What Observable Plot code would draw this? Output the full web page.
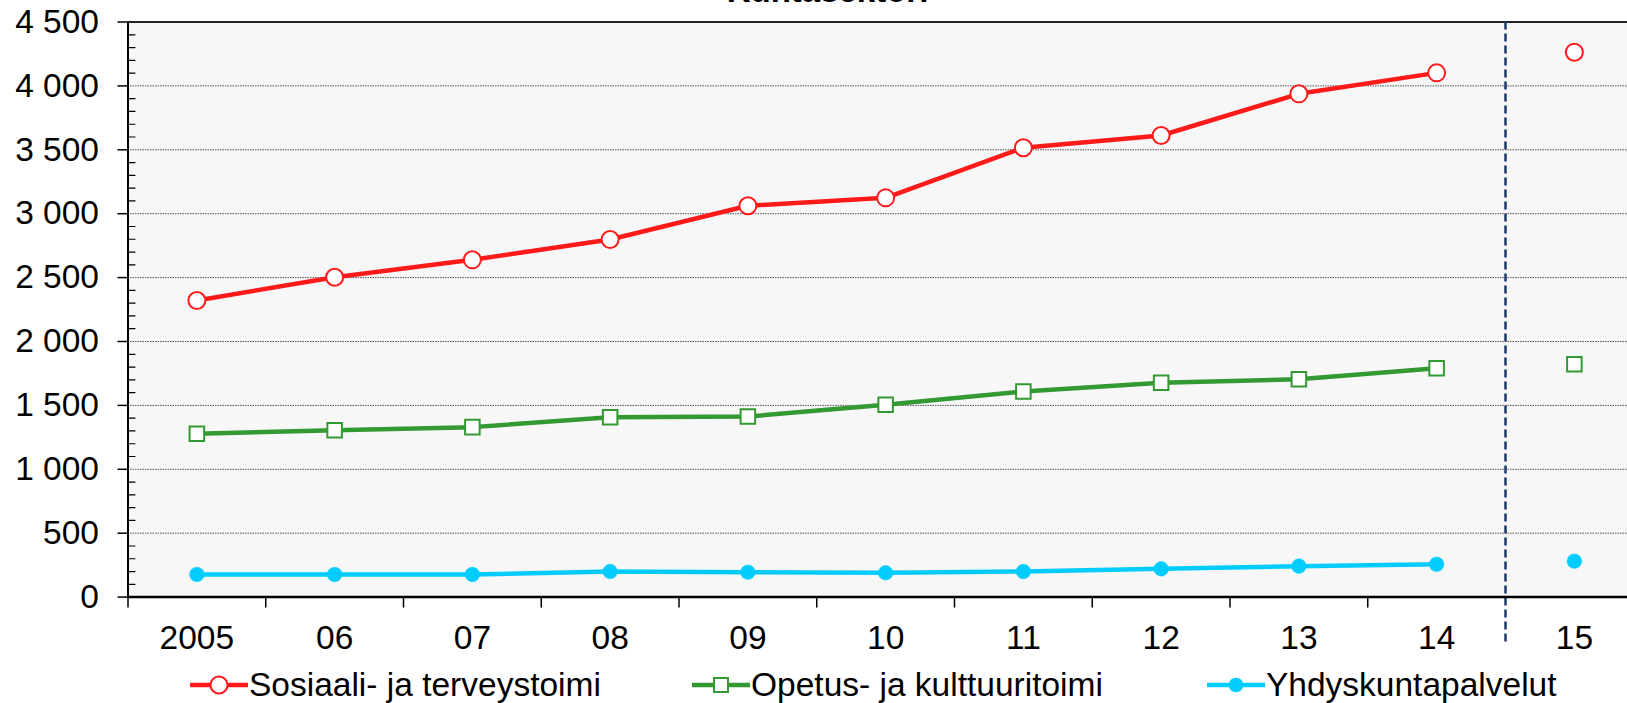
<!DOCTYPE html>
<html>
<head>
<meta charset="utf-8">
<script src="https://cdn.jsdelivr.net/npm/d3@7"></script>
<script src="https://cdn.jsdelivr.net/npm/@observablehq/plot@0.6"></script>
<style>
  html, body { margin: 0; padding: 0; background: #ffffff; overflow: hidden; }
  body { width: 1627px; height: 703px; position: relative; font-family: "Liberation Sans", Arial, sans-serif; }
  #title { position: absolute; top: -26px; left: 0; width: 1655px; text-align: center; font-weight: bold; font-size: 33px; line-height: 1; color: #000; }
  #chart { position: absolute; top: 0; left: 0; }
  .legend-item { position: absolute; top: 658px; height: 54px; display: flex; align-items: center; font-size: 33.5px; color: #000; white-space: nowrap; }
  .legend-item svg { display: block; margin-right: 1px; }
</style>
</head>
<body>
<div id="title">Kuntasektori</div>
<div id="chart"></div>
<div id="legend"></div>
<script>
// ---- data ----
const categories = ["2005", "06", "07", "08", "09", "10", "11", "12", "13", "14", "15"];
const seriesNames = ["Sosiaali- ja terveystoimi", "Opetus- ja kulttuuritoimi", "Yhdyskuntapalvelut"];
const sosiaali = [2321, 2503, 2639, 2798, 3062, 3124, 3516, 3612, 3938, 4102, 4264];
const opetus   = [1278, 1306, 1330, 1408, 1413, 1505, 1609, 1677, 1705, 1791, 1822];
const yhdysk   = [177, 177, 177, 200, 195, 190, 200, 221, 242, 257, 281];
const yTicks = [0, 500, 1000, 1500, 2000, 2500, 3000, 3500, 4000, 4500];
const yMinorStep = 100;
const forecastFrom = "15";

// ---- build table ----
const seriesValues = [sosiaali, opetus, yhdysk];
const colors = ["#FF1A1A", "#339933", "#00CCFF"];
const forecastIdx = categories.indexOf(forecastFrom);
const rows = [];
seriesNames.forEach((name, s) => {
  categories.forEach((c, i) => {
    rows.push({series: name, cat: c, pos: i + 0.5, value: seriesValues[s][i], forecast: i >= forecastIdx});
  });
});
const bySeries = (s) => rows.filter(d => d.series === seriesNames[s]);

const fmt = d3.formatLocale({decimal: ",", thousands: " ", grouping: [3], currency: ["", ""]}).format(",d");
const yMax = yTicks[yTicks.length - 1];
const minorTicks = d3.range(0, yMax, yMinorStep).filter(v => !yTicks.includes(v));
const xBoundaries = d3.range(0, categories.length).filter(i => i !== forecastIdx);
const line = {draw(ctx, l) { ctx.moveTo(0, 0); ctx.lineTo(0, -l); }};

const W = 1627, H = 660, mL = 127.5, mT = 21.5, mB = 63.4, step = 137.75;

const plot = Plot.plot({
  width: W,
  height: H,
  marginTop: mT,
  marginBottom: mB,
  marginLeft: mL,
  marginRight: 0,
  style: {fontFamily: '"Liberation Sans", Arial, sans-serif', fontSize: "33.5px", color: "#000", background: "transparent", overflow: "visible"},
  x: {type: "linear", domain: [0, categories.length], range: [mL, mL + step * categories.length]},
  y: {type: "linear", domain: [0, yMax]},
  marks: [
    Plot.frame({fill: "#F7F7F7", stroke: null}),
    Plot.ruleY(yTicks.filter(v => v > 0 && v < yMax), {stroke: "#555", strokeWidth: 1, strokeDasharray: "1.5,1"}),
    Plot.ruleY([yMax], {stroke: "#222", strokeWidth: 2}),
    Plot.ruleX([forecastIdx], {stroke: "#1F3864", strokeWidth: 2.5, strokeDasharray: "8,4", insetBottom: -45}),
    Plot.vector(minorTicks, {x: 0, y: d => d, length: 7, rotate: 90, anchor: "start", shape: line, stroke: "#000", strokeWidth: 1.2}),
    Plot.vector(xBoundaries, {x: d => d, y: 0, length: 10, rotate: 180, anchor: "start", shape: line, stroke: "#000", strokeWidth: 1.5}),
    Plot.ruleX([0], {stroke: "#000", strokeWidth: 2}),
    Plot.ruleY([0], {stroke: "#000", strokeWidth: 2.5}),
    Plot.axisY({ticks: yTicks, tickFormat: fmt, tickSize: 10, tickPadding: 19, label: null, fontSize: 33.5, strokeWidth: 1.5}),
    Plot.axisX({ticks: categories.map((c, i) => i + 0.5), tickFormat: d => categories[Math.round(d - 0.5)], tickSize: 0, tickPadding: 28, label: null, fontSize: 33.5}),
    // lines (history only)
    ...[0, 1, 2].map(s => Plot.lineY(bySeries(s).filter(d => !d.forecast), {x: "pos", y: "value", stroke: colors[s], strokeWidth: 4.5, strokeLinejoin: "round"})),
    // markers
    Plot.dot(bySeries(0), {x: "pos", y: "value", r: 8.5, fill: "#fff", stroke: colors[0], strokeWidth: 2}),
    Plot.dot(bySeries(1), {x: "pos", y: "value", symbol: "square", r: 8.2, fill: "#fff", stroke: colors[1], strokeWidth: 2}),
    Plot.dot(bySeries(2), {x: "pos", y: "value", r: 7.3, fill: colors[2], stroke: colors[2], strokeWidth: 0.5})
  ]
});
document.getElementById("chart").appendChild(plot);

// ---- legend ----
const legendLefts = [190, 692, 1207];
const markers = [
  c => `<circle cx="29" cy="12" r="8.5" fill="#fff" stroke="${c}" stroke-width="2"/>`,
  c => `<rect x="22" y="5" width="14" height="14" fill="#fff" stroke="${c}" stroke-width="2"/>`,
  c => `<circle cx="29" cy="12" r="7.3" fill="${c}"/>`
];
const legend = document.getElementById("legend");
seriesNames.forEach((name, s) => {
  const item = document.createElement("div");
  item.className = "legend-item";
  item.style.left = legendLefts[s] + "px";
  item.innerHTML = `<svg width="58" height="24"><line x1="0" x2="58" y1="12" y2="12" stroke="${colors[s]}" stroke-width="4.5"/>${markers[s](colors[s])}</svg><span>${name}</span>`;
  legend.appendChild(item);
});
</script>
</body>
</html>
